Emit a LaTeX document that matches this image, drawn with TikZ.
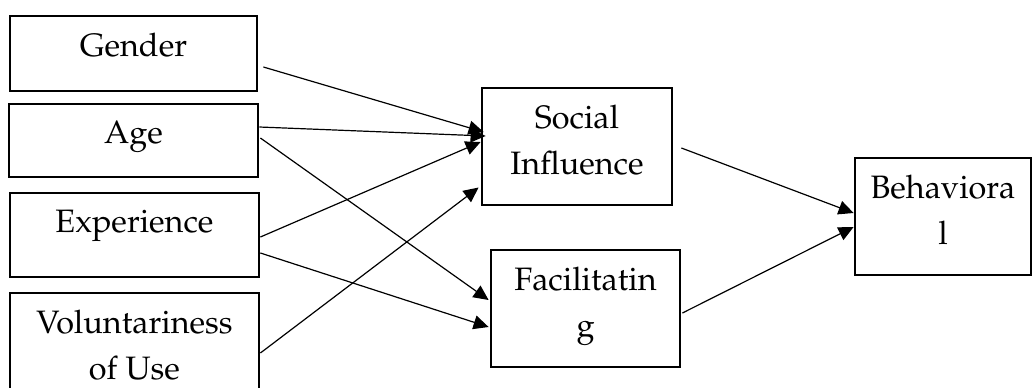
\documentclass[tikz,border=0pt]{standalone}
\usepackage[T1]{fontenc}
\usepackage{mathpazo}
\usetikzlibrary{arrows.meta,calc}
\tikzset{
  box/.style={draw, line width=1.4pt, rectangle, inner sep=0pt},
  lbl/.style={anchor=north, inner sep=0pt, align=center,
    font=\fontsize{16.2pt}{23pt}\selectfont, yshift=-9pt},
  conn/.style={line width=0.6pt, -{Triangle[length=7.5pt,width=7pt]}}
}
\begin{document}
\begin{tikzpicture}[x=0.5pt,y=-0.5pt]
\useasboundingbox (0,0) rectangle (1033,387);
% boxes (pixel coordinates)
\node[box, minimum width=123.5pt, minimum height=37.5pt,
  label={[lbl]north:Gender}] (g) at (133.5,53.5) {};
\node[box, minimum width=124.5pt, minimum height=36.5pt,
  label={[lbl]north:Age}] (a) at (133.5,140.5) {};
\node[box, minimum width=124.5pt, minimum height=42pt,
  label={[lbl]north:Experience}] (e) at (134.5,235) {};
\node[box, minimum width=124.5pt, minimum height=63.5pt,
  label={[lbl]north:Voluntariness\\of Use}] (v) at (134.5,356.5) {};
\node[box, minimum width=95pt, minimum height=58.5pt,
  label={[lbl]north:Social\\Influence}] (si) at (577,146.5) {};
\node[box, minimum width=94.5pt, minimum height=58.5pt,
  label={[lbl]north:Facilitatin\\g}] (fc) at (585.5,308.5) {};
\node[box, minimum width=88pt, minimum height=58.5pt,
  label={[lbl]north:Behaviora\\l}] (b) at (943,216.5) {};
% connectors
\draw[conn] ($(g.east)+(5,13.5)$) -- ($(si.west)+(3,-14.5)$);
\draw[conn] ($(a.east)+(0,-13.5)$) -- ($(si.west)+(5,-10.5)$);
\draw[conn] ($(a.east)+(1,-2.5)$) -- ($(fc.west)+(-1,-8.5)$);
\draw[conn] ($(e.east)+(0,2)$) -- ($(si.west)+(0,-4.5)$);
\draw[conn] ($(e.east)+(0,18)$) -- ($(fc.west)+(-1,18.5)$);
\draw[conn] ($(v.east)+(0,-3.5)$) -- ($(si.west)+(-2,41)$);
\draw[conn] ($(si.east)+(8,1.5)$) -- ($(b.west)+(0,-3.5)$);
\draw[conn] ($(fc.east)+(1,4.5)$) -- ($(b.west)+(0,10.5)$);
\end{tikzpicture}
\end{document}
